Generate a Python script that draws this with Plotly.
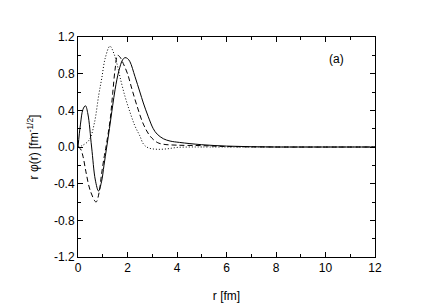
import plotly.graph_objects as go

# Solid curve
r_solid = [0, 0.1, 0.2, 0.3, 0.4, 0.55, 0.7, 0.83, 0.95, 1.05, 1.16, 1.27, 1.4, 1.5, 1.65, 1.8, 1.9, 2.0, 2.1,
           2.3, 2.5, 2.64, 2.84, 3.04, 3.2, 3.45, 3.72, 4.1, 5, 6, 7, 8, 9, 10, 12]
v_solid = [0, 0.25, 0.41, 0.45, 0.36, 0.0, -0.36, -0.48, -0.38, -0.2, 0.0, 0.2, 0.45, 0.63, 0.83, 0.95, 0.975, 0.965, 0.93,
           0.77, 0.6, 0.48, 0.33, 0.2, 0.14, 0.09, 0.065, 0.05, 0.025, 0.01, 0.003, 0.0, 0.0, 0.0, 0.0]

# Dashed curve
r_dash = [0, 0.1, 0.2, 0.32, 0.5, 0.73, 0.85, 0.95, 1.05, 1.13, 1.3, 1.4, 1.5, 1.6, 1.7, 1.83, 2.0, 2.17,
          2.37, 2.64, 2.91, 3.2, 3.45, 4.0, 5, 6, 8, 12]
v_dash = [0, -0.02, -0.1, -0.27, -0.48, -0.6, -0.5, -0.3, -0.12, 0.0, 0.3, 0.58, 0.85, 1.0, 0.98, 0.91, 0.8, 0.64,
          0.46, 0.25, 0.12, 0.05, 0.03, 0.02, 0.015, 0.005, 0.0, 0.0]

# Dotted curve
r_dot = [0, 0.2, 0.46, 0.66, 0.84, 0.96, 1.1, 1.29, 1.45, 1.6, 1.7, 1.9, 2.1, 2.3, 2.5, 2.65, 2.85, 3.2, 3.6,
         4.0, 4.5, 5, 12]
v_dot = [0, 0.02, 0.08, 0.26, 0.57, 0.75, 0.97, 1.1, 1.02, 0.88, 0.76, 0.55, 0.38, 0.23, 0.12, 0.03, -0.01, -0.025,
         -0.02, -0.005, 0.0, 0.0, 0.0]

x_ticks = [0, 2, 4, 6, 8, 10, 12]
y_ticks = [-1.2, -0.8, -0.4, 0.0, 0.4, 0.8, 1.2]
y_tick_labels = ["-1.2", "-0.8", "-0.4", "0.0", "0.4", "0.8", "1.2"]

fig = go.Figure()
fig.add_trace(go.Scatter(x=r_solid, y=v_solid, mode="lines", line=dict(color="black", width=1, shape="spline")))
fig.add_trace(go.Scatter(x=r_dash, y=v_dash, mode="lines",
                         line=dict(color="black", width=1, dash="5px,3px", shape="spline")))
fig.add_trace(go.Scatter(x=r_dot, y=v_dot, mode="lines",
                         line=dict(color="black", width=1, dash="1px,2px", shape="spline")))

font = dict(family="Liberation Sans, Arial, sans-serif", size=12, color="black")
axis_common = dict(showgrid=False, zeroline=False, showline=True, linecolor="black", linewidth=1,
                   mirror="allticks", ticks="inside", ticklen=5, tickcolor="black", tickwidth=1,
                   tickfont=font, automargin=False)

fig.update_xaxes(range=[0, 12], tickvals=x_ticks, ticktext=[str(t) for t in x_ticks],
                 minor=dict(dtick=1, ticks="inside", ticklen=3, tickcolor="black"),
                 title=dict(text="r [fm]", font=font, standoff=17), **axis_common)
fig.update_yaxes(range=[-1.2, 1.2], tickvals=y_ticks, ticktext=y_tick_labels,
                 minor=dict(dtick=0.2, ticks="inside", ticklen=3, tickcolor="black"),
                 title=dict(text="r φ(r) [fm<sup>-1/2</sup>]", font=font, standoff=12), **axis_common)

fig.add_annotation(x=0.87, y=0.9, xref="paper", yref="paper", text="(a)", showarrow=False,
                   font=font, xanchor="center", yanchor="middle")

# the page body adds an 8px offset, so the figure is drawn 8px smaller with margins reduced
fig.update_layout(width=428, height=300, margin=dict(l=70, r=61, t=29, b=51),
                  plot_bgcolor="white", paper_bgcolor="white", showlegend=False, font=font)

fig.write_html("out.html")
